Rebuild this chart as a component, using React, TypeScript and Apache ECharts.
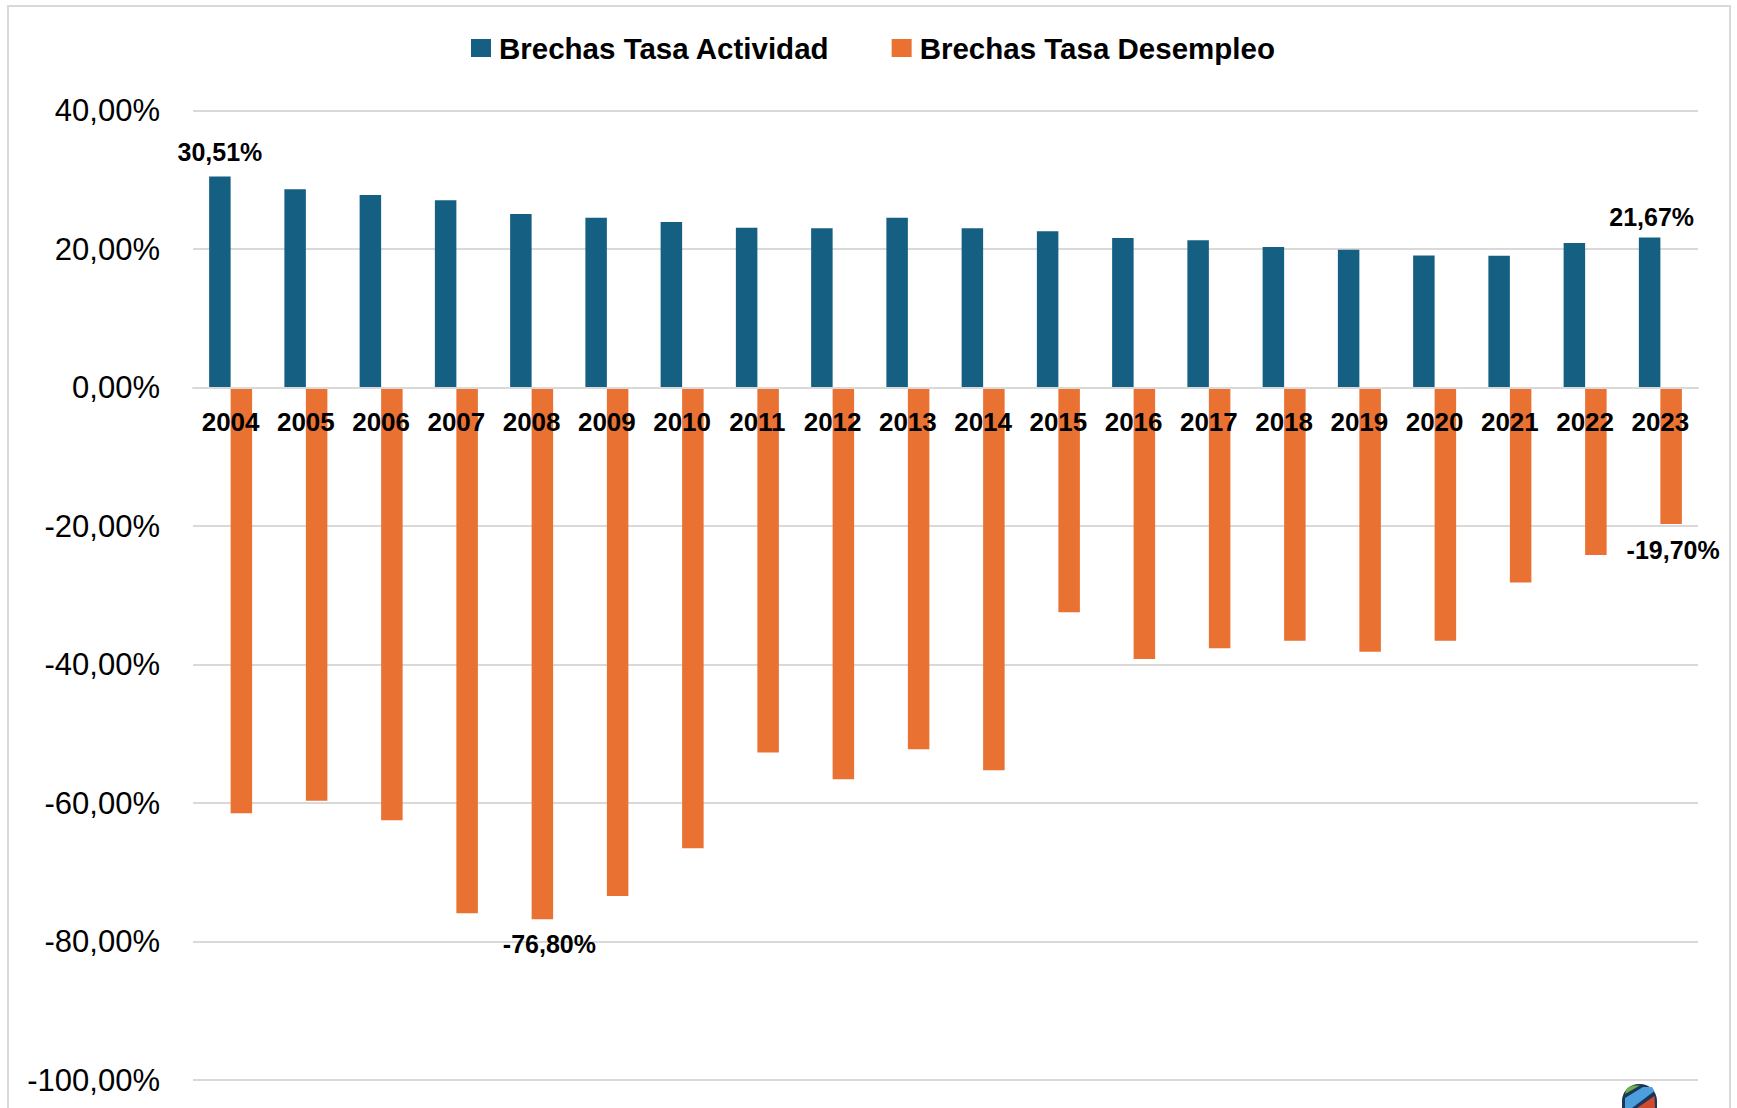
import React, { useEffect, useRef } from "react";
import * as echarts from "echarts";

const years = [
  "2004", "2005", "2006", "2007", "2008", "2009", "2010", "2011", "2012", "2013",
  "2014", "2015", "2016", "2017", "2018", "2019", "2020", "2021", "2022", "2023",
];

const actividad = [
  30.51, 28.65, 27.83, 27.06, 25.09, 24.55, 23.93, 23.11, 23.02, 24.55,
  23.02, 22.59, 21.62, 21.29, 20.32, 19.93, 19.1, 19.05, 20.9, 21.67,
];

const desempleo = [
  -61.47, -59.65, -62.48, -75.91, -76.8, -73.41, -66.52, -52.71, -56.56, -52.22,
  -55.26, -32.44, -39.18, -37.64, -36.54, -38.13, -36.54, -28.16, -24.16, -19.7,
];

const yTicks = { min: -100, max: 40, interval: 20 };

const seriesNames = ["Brechas Tasa Actividad", "Brechas Tasa Desempleo"];
const colors = ["#156082", "#E97132"];

const fmt = (v: number) => v.toFixed(2).replace(".", ",") + "%";

const FONT = "'Liberation Sans', Arial, Helvetica, sans-serif";

const GRID_TOP = 110.7;
const GRID_BOTTOM = 28;
const CHART_H = 1108;

export default function App() {
  const ref = useRef<HTMLDivElement>(null);

  useEffect(() => {
    if (!ref.current) return;
    const chart = echarts.init(ref.current, null, { renderer: "svg" });

    const last = years.length - 1;
    const labelBase = {
      show: true,
      fontFamily: FONT,
      fontSize: 25,
      fontWeight: "bold" as const,
      color: "#000",
      formatter: (p: any) => fmt(p.value),
    };

    const actData = actividad.map((v, i) => {
      if (i === 0) return { value: v, label: { ...labelBase, position: "top", distance: 12 } };
      if (i === last)
        return { value: v, label: { ...labelBase, position: "top", distance: 8, offset: [2, 0] } };
      return { value: v };
    });

    let minIdx = 0;
    desempleo.forEach((v, i) => {
      if (v < desempleo[minIdx]) minIdx = i;
    });
    const desData = desempleo.map((v, i) => {
      if (i === minIdx)
        return { value: v, label: { ...labelBase, position: "bottom", distance: 12, offset: [7, 0] } };
      if (i === last)
        return { value: v, label: { ...labelBase, position: "bottom", distance: 13, offset: [2, 0] } };
      return { value: v };
    });

    // distance from the bottom of the grid up to the zero line
    const plotH = CHART_H - GRID_TOP - GRID_BOTTOM;
    const zeroFromBottom = (plotH * (0 - yTicks.min)) / (yTicks.max - yTicks.min);

    chart.setOption({
      animation: false,
      backgroundColor: "#ffffff",
      textStyle: { fontFamily: FONT },
      legend: {
        left: 466,
        top: 28,
        itemWidth: 20,
        itemHeight: 18,
        itemGap: 62,
        icon: "rect",
        textStyle: {
          fontFamily: FONT,
          fontSize: 29.5,
          fontWeight: "bold",
          color: "#000",
          padding: [0, 0, 0, 3],
        },
        data: seriesNames,
      },
      grid: {
        left: 193,
        right: 39,
        top: GRID_TOP,
        bottom: GRID_BOTTOM,
        containLabel: false,
        outerBoundsMode: "none",
      },
      xAxis: {
        type: "category",
        data: years,
        z: 10,
        position: "bottom",
        offset: -zeroFromBottom,
        axisLine: { show: true, onZero: false, lineStyle: { color: "#d9d9d9", width: 2 } },
        axisTick: { show: false },
        axisLabel: {
          fontFamily: FONT,
          fontSize: 26,
          fontWeight: "bold",
          color: "#000",
          margin: 21,
          interval: 0,
        },
      },
      yAxis: {
        type: "value",
        min: yTicks.min,
        max: yTicks.max,
        interval: yTicks.interval,
        axisLine: { show: false },
        axisTick: { show: false },
        splitLine: { lineStyle: { color: "#d9d9d9", width: 2 } },
        axisLabel: {
          fontFamily: FONT,
          fontSize: 31,
          color: "#000",
          margin: 33,
          formatter: (v: number) => v.toFixed(2).replace(".", ",") + "%",
        },
      },
      series: [
        {
          name: seriesNames[0],
          type: "bar",
          data: actData,
          barWidth: 21.5,
          barGap: "0%",
          itemStyle: { color: colors[0] },
          label: { show: false },
        },
        {
          name: seriesNames[1],
          type: "bar",
          data: desData,
          barWidth: 21.5,
          barGap: "0%",
          itemStyle: { color: colors[1] },
          label: { show: false },
        },
      ],
      graphic: [
        {
          type: "rect",
          shape: { x: 8, y: 6, width: 1722, height: 1130 },
          style: { fill: "none", stroke: "#d9d9d9", lineWidth: 2 },
          z: 100,
          silent: true,
        },
        {
          type: "group",
          z: 100,
          silent: true,
          children: [
            {
              type: "rect",
              shape: { x: 1622, y: 1084, width: 35, height: 30, r: [17, 17, 0, 0] },
              style: { fill: "#1d3557" },
            },
            {
              type: "polygon",
              shape: { points: [[1625, 1094], [1627, 1088], [1633, 1085.5], [1640, 1085.5]] },
              style: { fill: "#6ab04c" },
            },
            {
              type: "polygon",
              shape: {
                points: [[1625, 1098], [1643, 1087], [1652, 1087], [1654.5, 1091], [1632, 1108], [1625, 1108]],
              },
              style: { fill: "#4a9fdc" },
            },
            {
              type: "polygon",
              shape: { points: [[1637, 1108], [1654.5, 1096], [1655, 1108]] },
              style: { fill: "#d24a2e" },
            },
          ],
        },
      ],
    });

    return () => chart.dispose();
  }, []);

  return (
    <div
      ref={ref}
      style={{ position: "fixed", left: 0, top: 0, width: 1737, height: 1108, background: "#fff" }}
    />
  );
}
